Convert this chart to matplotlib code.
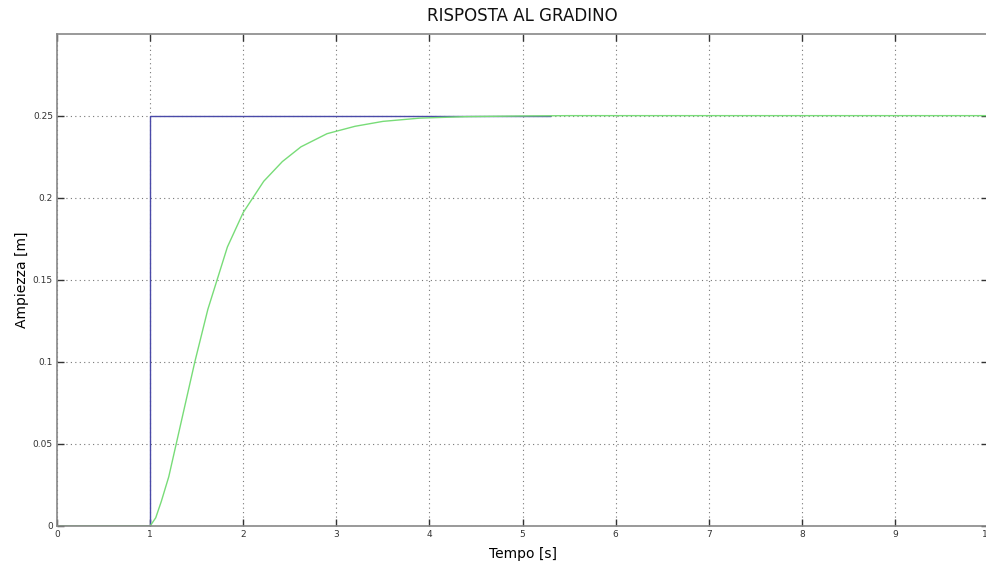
import matplotlib
matplotlib.use("Agg")
import matplotlib.pyplot as plt

# Input step (blue) and system response (green)
step_t = [0.0, 1.0, 1.0, 5.3]
step_y = [0.0, 0.0, 0.25, 0.25]

resp_t = [0.0, 1.0, 1.06, 1.12, 1.2, 1.28, 1.38, 1.48, 1.62, 1.83, 2.0,
          2.22, 2.42, 2.62, 2.9, 3.2, 3.5, 3.9, 4.4, 5.0, 5.5, 10.0]
resp_y = [0.0, 0.0, 0.005, 0.015, 0.030, 0.050, 0.075, 0.100, 0.132, 0.170,
          0.191, 0.210, 0.222, 0.231, 0.239, 0.2435, 0.2465, 0.2485, 0.2494,
          0.2498, 0.25, 0.25]

x_ticks = list(range(0, 11))
y_ticks = [0.0, 0.05, 0.1, 0.15, 0.2, 0.25]
y_tick_labels = ["0", "0.05", "0.1", "0.15", "0.2", "0.25"]

fig = plt.figure(figsize=(9.87, 5.69), dpi=100)
ax = fig.add_axes([0.0578, 0.0756, 0.9432, 0.8654])

ax.plot(step_t, step_y, color="#4a4aa8", linewidth=1.0)
ax.plot(resp_t, resp_y, color="#78dc78", linewidth=1.0)

ax.set_xlim(0, 10)
ax.set_ylim(0, 0.3)
ax.set_xticks(x_ticks)
ax.set_yticks(y_ticks)
ax.set_yticklabels(y_tick_labels)

ax.grid(True, linestyle=(0, (1, 3)), color="#777777", linewidth=0.8)
ax.tick_params(direction="in", length=5, width=1.0, color="#333333",
               labelsize=6.5, labelcolor="#333333", top=True, right=True, pad=3)
for sp in ax.spines.values():
    sp.set_color("#888888")
    sp.set_linewidth(1.2)

ax.set_title("RISPOSTA AL GRADINO", fontsize=12, pad=9, color="#111111")
ax.set_xlabel("Tempo [s]", fontsize=10, labelpad=6)
ax.set_ylabel("Ampiezza [m]", fontsize=10, labelpad=3)

fig.savefig("out.png", dpi=100)
